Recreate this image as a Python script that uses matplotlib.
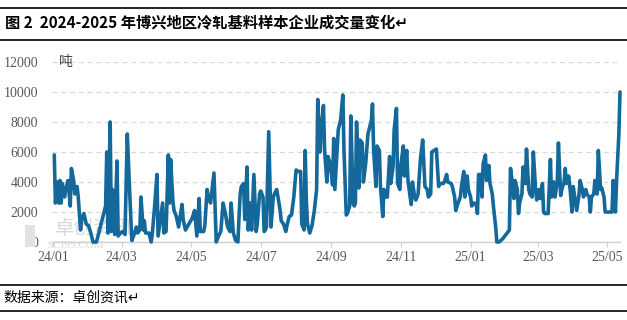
import matplotlib
matplotlib.use("Agg")
import matplotlib.pyplot as plt
import matplotlib.dates as mdates
from matplotlib.lines import Line2D
from matplotlib.patches import Rectangle
import pandas as pd

plt.rcParams['font.family'] = ['Noto Sans CJK SC', 'DejaVu Sans']

title = "图 2  2024-2025 年博兴地区冷轧基料样本企业成交量变化↵"
source = "数据来源：卓创资讯↵"
unit = "吨"
watermark_cn = "卓创资讯"
watermark_en = "SCI99.COM"

dates_2024 = [
    "01-02", "01-03", "01-05", "01-06", "01-07", "01-08", "01-09", "01-11", "01-12", "01-14",
    "01-16", "01-17", "01-19", "01-20", "01-22", "01-23", "01-25", "01-26", "01-28", "01-30",
    "02-01", "02-03", "02-05", "02-08", "02-16", "02-17", "02-18", "02-20", "02-21", "02-22",
    "02-24", "02-26", "02-27", "02-29", "03-02", "03-04", "03-06", "03-08", "03-10", "03-12",
    "03-14", "03-15", "03-17", "03-18", "03-20", "03-21", "03-22", "03-25", "03-27", "03-28",
    "03-30", "04-01", "04-02", "04-04", "04-06", "04-07", "04-09", "04-11", "04-12", "04-13",
    "04-15", "04-16", "04-18", "04-20", "04-23", "04-24", "04-26", "04-29", "05-02", "05-04",
    "05-06", "05-08", "05-09", "05-12", "05-13", "05-15", "05-16", "05-18", "05-20", "05-21",
    "05-23", "05-25", "05-27", "05-29", "05-31", "06-02", "06-04", "06-05", "06-07", "06-09",
    "06-11", "06-12", "06-13", "06-14", "06-16", "06-17", "06-19", "06-20", "06-22", "06-23",
    "06-25", "06-27", "06-28", "06-30", "07-01", "07-03", "07-04", "07-05", "07-06", "07-08",
    "07-10", "07-12", "07-13", "07-15", "07-17", "07-18", "07-19", "07-21", "07-23", "07-24",
    "07-26", "07-28", "07-30", "08-01", "08-03", "08-05", "08-06", "08-08", "08-09", "08-10",
    "08-11", "08-13", "08-15", "08-17", "08-19", "08-20", "08-22", "08-23", "08-25", "08-26",
    "08-28", "08-29", "08-31", "09-02", "09-03", "09-04", "09-06", "09-07", "09-09", "09-11",
    "09-12", "09-14", "09-15", "09-17", "09-18", "09-20", "09-21", "09-22", "09-23", "09-25",
    "09-26", "09-28", "09-29", "10-01", "10-03", "10-06", "10-07", "10-08", "10-10", "10-11",
    "10-13", "10-14", "10-16", "10-17", "10-19", "10-20", "10-22", "10-23", "10-25", "10-26",
    "10-28", "10-29", "10-31", "11-01", "11-03", "11-04", "11-06", "11-07", "11-09", "11-10",
    "11-11", "11-13", "11-14", "11-16", "11-17", "11-18", "11-20", "11-22", "11-24", "11-25",
    "11-27", "11-28", "11-30", "12-02", "12-04", "12-05", "12-08", "12-09", "12-11", "12-12",
    "12-15", "12-16", "12-18", "12-19", "12-21", "12-23", "12-24", "12-26", "12-27", "12-29",
    "12-30",
]
values_2024 = [
    5800, 2600, 4000, 2600, 4100, 2600, 3900, 3000, 3500, 4100,
    2400, 4900, 4100, 3200, 3700, 3000, 800, 1500, 1900, 1200,
    1100, 600, 0, 0, 2400, 6000, 600, 8000, 700, 3500,
    500, 5400, 400, 600, 700, 500, 7200, 3500, 100, 500,
    1000, 600, 800, 3000, 800, 1400, 600, 600, 0, 600,
    2400, 4500, 400, 1500, 2600, 600, 700, 5800, 2600, 5500,
    2700, 2100, 1700, 1000, 2500, 1500, 800, 1200, 1600, 2100,
    400, 2900, 700, 700, 1100, 3500, 3000, 2600, 3900, 4600,
    0, 400, 700, 2600, 1900, 1000, 700, 2600, 600, 100,
    0, 1700, 3200, 3700, 3900, 1500, 5000, 800, 2600, 800,
    4500, 700, 1200, 3200, 3400, 3000, 700, 800, 1000, 7350,
    1000, 3000, 3200, 3500, 2600, 2100, 1400, 1200, 700, 1100,
    1700, 1800, 3000, 4800, 4700, 4700, 1200, 800, 6100, 2800,
    1200, 600, 1100, 2100, 3500, 9500, 6000, 7500, 9100, 6100,
    4000, 5700, 5200, 3800, 6900, 3500, 6100, 7500, 8100, 9800,
    6100, 1800, 1900, 2400, 8400, 2600, 2400, 2600, 8000, 3600,
    6800, 6600, 4000, 5200, 7200, 8100, 9200, 6100, 3700, 6400,
    6100, 3700, 1700, 3500, 3000, 3000, 5700, 3900, 5000, 7500,
    8900, 3900, 3500, 5200, 6400, 4400, 6100, 4200, 3000, 2500,
    4000, 3000, 2800, 3200, 4400, 5500, 6800, 3700, 3500, 3000,
    3200, 6000, 6100, 6200, 3700, 3900, 3900, 4000, 4500, 4000,
    3900, 3700, 3000, 2100, 2600, 3000, 3700, 4700, 3000, 4400,
    3500,
]
dates_2025 = [
    "01-01", "01-02", "01-04", "01-06", "01-07", "01-08", "01-10", "01-11", "01-12", "01-14",
    "01-15", "01-17", "01-18", "01-20", "01-21", "01-23", "01-24", "01-26", "01-29", "02-01",
    "02-03", "02-04", "02-05", "02-07", "02-08", "02-09", "02-11", "02-12", "02-13", "02-15",
    "02-16", "02-18", "02-19", "02-21", "02-22", "02-24", "02-25", "02-27", "02-28", "03-02",
    "03-03", "03-05", "03-06", "03-07", "03-10", "03-12", "03-13", "03-15", "03-16", "03-18",
    "03-19", "03-21", "03-22", "03-24", "03-25", "03-26", "03-28", "03-29", "03-31", "04-01",
    "04-03", "04-04", "04-06", "04-07", "04-09", "04-10", "04-12", "04-13", "04-15", "04-16",
    "04-17", "04-19", "04-20", "04-22", "04-23", "04-25", "04-26", "04-28", "04-29", "05-02",
    "05-05", "05-06", "05-08", "05-09", "05-11", "05-12",
]
values_2025 = [
    3000, 2400, 2600, 2500, 1900, 4500, 4500, 3000, 5200, 5800,
    4100, 5100, 3900, 3200, 2400, 1000, 0, 0, 200, 500,
    700, 800, 4900, 3700, 2900, 4100, 3500, 1900, 2600, 3200,
    5000, 3900, 6200, 3500, 3200, 3000, 6000, 3500, 2800, 3500,
    2900, 3900, 2000, 1900, 1900, 5500, 3000, 4000, 3000, 4000,
    6600, 3100, 3500, 4000, 4900, 3900, 4400, 3700, 2000, 3700,
    2600, 2100, 3100, 4100, 3500, 3000, 3500, 3200, 3000, 2000,
    3000, 3200, 4100, 3200, 6100, 3500, 3600, 3000, 2000, 2000,
    2000, 4100, 2000, 4100, 7200, 10000,
]
y_ticks = [0, 2000, 4000, 6000, 8000, 10000, 12000]

dates = pd.to_datetime(["2024-" + d for d in dates_2024] + ["2025-" + d for d in dates_2025])
values = values_2024 + values_2025

W, H = 627, 320
fig = plt.figure(figsize=(W / 100, H / 100), dpi=100)
ax = fig.add_axes([52 / W, 1 - 242 / H, (620 - 52) / W, (242 - 62) / H])

ax.plot(dates, values, color="#14699A", lw=2.6, solid_joinstyle="round",
        solid_capstyle="round", clip_on=False, zorder=3)

ax.set_ylim(0, 12000)
ax.set_xlim(pd.Timestamp("2023-12-31"), pd.Timestamp("2025-05-12"))
ax.set_yticks(y_ticks)
ax.yaxis.grid(True, linestyle=(0, (4, 3)), color="#d9d9d9", lw=0.9)
ax.set_axisbelow(True)
for s in ["top", "right", "left"]:
    ax.spines[s].set_visible(False)
ax.spines["bottom"].set_color("#d0d0d0")
ax.spines["bottom"].set_linewidth(1.0)

ax.xaxis.set_major_locator(mdates.MonthLocator(bymonth=[1, 3, 5, 7, 9, 11]))
ax.xaxis.set_major_formatter(mdates.DateFormatter("%y/%m"))
ax.tick_params(axis="x", length=3.5, width=0.8, color="#d0d0d0", pad=3,
               labelcolor="#595959")
ax.tick_params(axis="y", length=0, pad=10, labelcolor="#595959")
for lab in ax.get_xticklabels() + ax.get_yticklabels():
    lab.set_family(["Liberation Serif", "DejaVu Serif"])
    lab.set_fontsize(10)

ax.text(0.012, 1.0, unit, transform=ax.transAxes, fontsize=10, color="#404040",
        va="center", ha="left")

# watermark (behind the line)
ax.add_patch(Rectangle((25 / W, 1 - 247 / H), 10 / W, 22 / H,
                       transform=fig.transFigure, facecolor="#e2e2e2",
                       edgecolor="none", zorder=1, clip_on=False))
ax.text(55 / W, 1 - 229 / H, watermark_cn, transform=fig.transFigure,
        fontsize=14, color="#d8d8d8", ha="left", va="center", zorder=1, clip_on=False)
ax.text(47 / W, 1 - 246 / H, watermark_en, transform=fig.transFigure,
        fontsize=8, family=["Liberation Serif", "DejaVu Serif"], color="#d8d8d8",
        ha="left", va="center", zorder=1, clip_on=False)

# title block
fig.add_artist(Line2D([0, 1], [1 - 8 / H] * 2, color="black", lw=1.2))
fig.add_artist(Line2D([0, 1], [1 - 40 / H] * 2, color="black", lw=1.2))
fig.text(5 / W, 1 - 22 / H, title, fontsize=11, fontweight="bold",
         ha="left", va="center", color="black")

# footer
fig.add_artist(Line2D([0, 1], [1 - 285 / H] * 2, color="black", lw=1.2))
fig.add_artist(Line2D([0, 1], [1 - 311 / H] * 2, color="black", lw=1.2))
fig.text(3 / W, 1 - 298 / H, source, fontsize=10, ha="left", va="center",
         color="black")

fig.savefig("out.png", dpi=100)
